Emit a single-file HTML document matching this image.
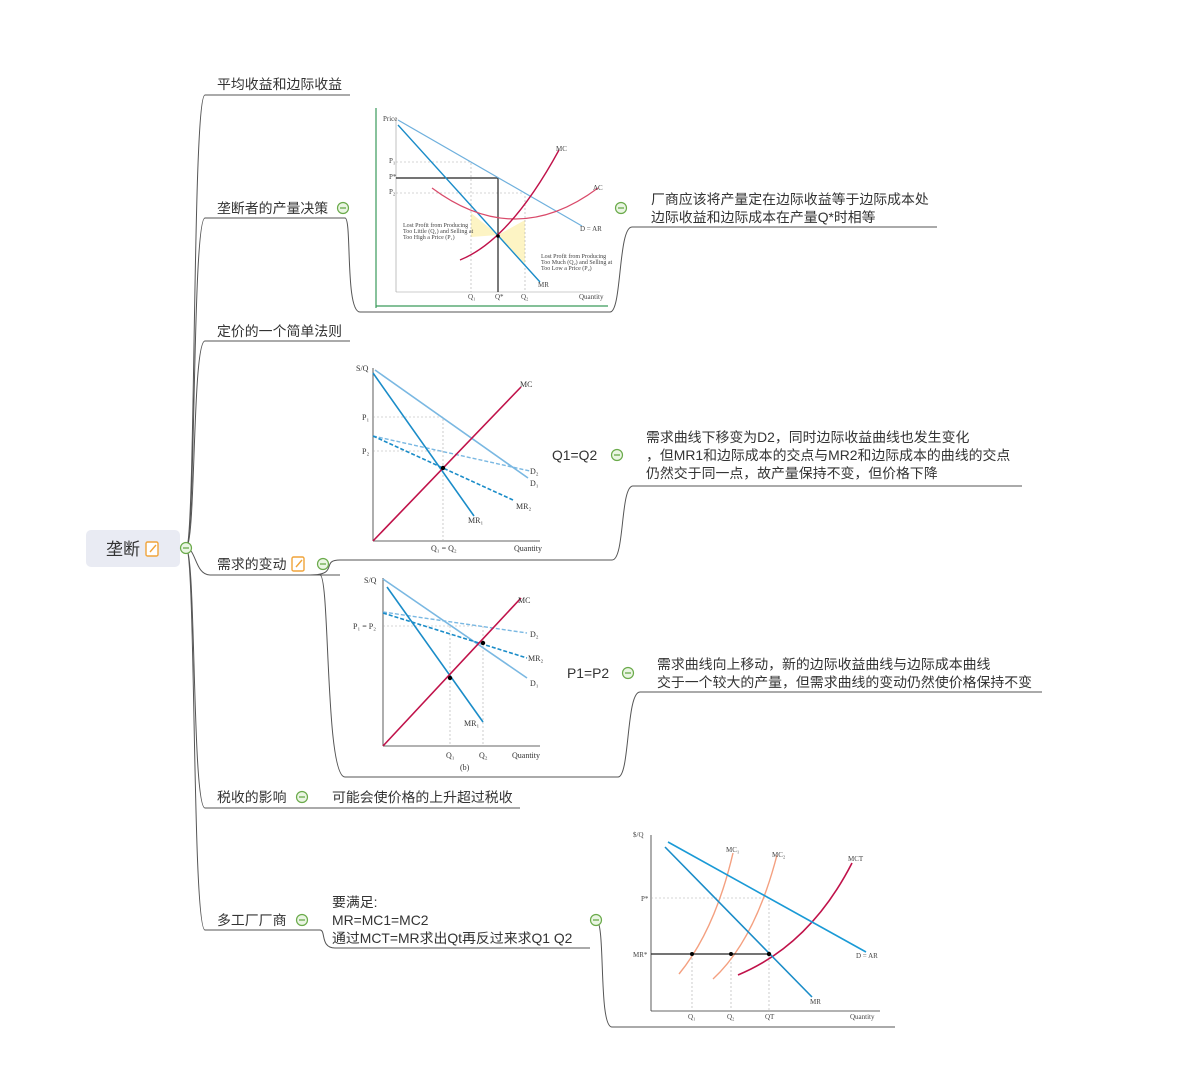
<!DOCTYPE html>
<html><head><meta charset="utf-8"><style>
body{margin:0;background:#fff;}
svg{display:block;}
.t{font-family:"Liberation Sans","Noto Sans CJK SC",sans-serif;font-size:13.9px;fill:#333;}
.s{font-family:"Liberation Serif",serif;font-size:7px;fill:#444;}
.s2{font-family:"Liberation Serif",serif;font-size:8px;fill:#333;}
.br{fill:none;stroke:#555;stroke-width:1;}
</style></head><body>
<svg width="1203" height="1080" viewBox="0 0 1203 1080" xmlns="http://www.w3.org/2000/svg">
<defs>
<g id="minus"><circle r="5.5" fill="#eaf5e3" stroke="#6aaa4a" stroke-width="1.2"/><line x1="-3" y1="0" x2="3" y2="0" stroke="#6aaa4a" stroke-width="1.3"/></g>
<g id="note"><rect x="-6" y="-7" width="12" height="14" rx="1.5" fill="#fff" stroke="#f0a43a" stroke-width="1.4"/><path d="M-2 3 L4 -4" stroke="#f0a43a" stroke-width="1.4"/></g>
</defs>
<g class="br">
<path d="M186 548 C196 548 192 95 205 95 L350 95"/>
<path d="M186 548 C196 548 192 218 205 218 L345 218"/>
<path d="M186 548 C196 548 192 341 205 341 L350 341"/>
<path d="M186 548 C196 548 195 575 210 575 L340 575"/>
<path d="M186 548 C196 548 192 808 205 808 L320 808"/>
<path d="M186 548 C196 548 192 930 205 930 L320 930"/>
<path d="M345 218 C352 218 345 312 360 312 L610 312 C622 312 618 227 632 227 L937 227"/>
<path d="M310 575 C340 575 320 560 340 560 L545 560 L612 560 C625 560 620 486 633 486 L1022 486"/>
<path d="M320 575 C330 575 325 777 345 777 L618 777 C630 777 626 692 640 692 L1042 692"/>
<path d="M320 808 L520 808"/>
<path d="M320 930 C326 930 320 948 335 948 L590 948"/>
<path d="M596 920 C606 920 598 1027 612 1027 L895 1027"/>
</g>
<rect x="86" y="530" width="94" height="37" rx="5" fill="#e9ebf3"/>
<text x="106" y="555" class="t" style="font-size:17px;fill:#333">垄断</text>
<use href="#note" x="152" y="549"/>
<use href="#minus" x="186" y="548"/>
<text x="217" y="89" class="t">平均收益和边际收益</text>
<text x="217" y="213" class="t">垄断者的产量决策</text>
<use href="#minus" x="343" y="208"/>
<text x="217" y="336" class="t">定价的一个简单法则</text>
<text x="217" y="569" class="t">需求的变动</text>
<use href="#note" x="298" y="564"/>
<use href="#minus" x="323" y="564"/>
<text x="217" y="802" class="t">税收的影响</text>
<use href="#minus" x="302" y="797"/>
<text x="332" y="802" class="t">可能会使价格的上升超过税收</text>
<text x="217" y="925" class="t">多工厂厂商</text>
<use href="#minus" x="302" y="920"/>
<text x="332" y="907" class="t">要满足:</text>
<text x="332" y="925" class="t">MR=MC1=MC2</text>
<text x="332" y="943" class="t">通过MCT=MR求出Qt再反过来求Q1 Q2</text>
<use href="#minus" x="596" y="920"/>
<use href="#minus" x="621" y="208"/>
<text x="651" y="204" class="t">厂商应该将产量定在边际收益等于边际成本处</text>
<text x="651" y="222" class="t">边际收益和边际成本在产量Q*时相等</text>
<text x="552" y="460" class="t">Q1=Q2</text>
<use href="#minus" x="617" y="455"/>
<text x="646" y="442" class="t">需求曲线下移变为D2，同时边际收益曲线也发生变化</text>
<text x="646" y="460" class="t">，但MR1和边际成本的交点与MR2和边际成本的曲线的交点</text>
<text x="646" y="478" class="t">仍然交于同一点，故产量保持不变，但价格下降</text>
<text x="567" y="678" class="t">P1=P2</text>
<use href="#minus" x="628" y="673"/>
<text x="657" y="669" class="t">需求曲线向上移动，新的边际收益曲线与边际成本曲线</text>
<text x="657" y="687" class="t">交于一个较大的产量，但需求曲线的变动仍然使价格保持不变</text>

<g>
<line x1="376" y1="108" x2="376" y2="308" stroke="#3a9a5a" stroke-width="1.2"/>
<line x1="376" y1="306" x2="608" y2="306" stroke="#3a9a5a" stroke-width="1.2"/>
<line x1="396" y1="120" x2="396" y2="292" stroke="#999" stroke-width="0.6"/>
<line x1="396" y1="292" x2="600" y2="292" stroke="#999" stroke-width="0.6"/>
<path d="M471 213 L498 235 L471 237 Z" fill="#fdf4c4"/>
<path d="M498 235 L525 220 L525 264 Z" fill="#fdf4c4"/>
<g stroke="#aaa" stroke-width="0.6" stroke-dasharray="2,2" fill="none">
<path d="M396 162 L471 162 L471 292"/><path d="M396 193 L525 193 L525 292"/></g>
<path d="M396 178 L498 178 L498 292" stroke="#222" stroke-width="1.2" fill="none"/>
<line x1="398" y1="120" x2="582" y2="226" stroke="#6fb0dd" stroke-width="1.2"/>
<line x1="398" y1="125" x2="540" y2="282" stroke="#1a8cc8" stroke-width="1.4"/>
<path d="M432 188 Q515 250 598 188" stroke="#d94a6a" stroke-width="1.2" fill="none"/>
<path d="M460 260 Q510 240 559 150" stroke="#c0124a" stroke-width="1.4" fill="none"/>
<circle cx="498" cy="236" r="1.8" fill="#000"/>
<text x="383" y="121" class="s">Price</text><text x="389" y="163" class="s">P₁</text><text x="389" y="179" class="s">P*</text><text x="389" y="194" class="s">P₂</text>
<text x="556" y="151" class="s">MC</text><text x="593" y="190" class="s">AC</text><text x="580" y="231" class="s">D = AR</text><text x="538" y="287" class="s">MR</text>
<text x="403" y="227" class="s" style="font-size:6px">Lost Profit from Producing</text>
<text x="403" y="233" class="s" style="font-size:6px">Too Little (Q₁) and Selling at</text>
<text x="403" y="239" class="s" style="font-size:6px">Too High a Price (P₁)</text>
<text x="541" y="258" class="s" style="font-size:6px">Lost Profit from Producing</text>
<text x="541" y="264" class="s" style="font-size:6px">Too Much (Q₂) and Selling at</text>
<text x="541" y="270" class="s" style="font-size:6px">Too Low a Price (P₂)</text>
<text x="468" y="299" class="s">Q₁</text><text x="495" y="299" class="s">Q*</text><text x="521" y="299" class="s">Q₂</text><text x="579" y="299" class="s">Quantity</text>
</g>

<g>
<line x1="373" y1="368" x2="373" y2="541" stroke="#333" stroke-width="0.8"/>
<line x1="373" y1="541" x2="540" y2="541" stroke="#333" stroke-width="0.8"/>
<g stroke="#aaa" stroke-width="0.6" stroke-dasharray="2,2" fill="none">
<path d="M373 417 L443 417 L443 541"/><path d="M373 451 L443 451"/></g>
<line x1="375" y1="370" x2="528" y2="478" stroke="#7ab8e2" stroke-width="1.6"/>
<line x1="373" y1="436" x2="530" y2="471" stroke="#7ab8e2" stroke-width="1.4" stroke-dasharray="4,2"/>
<line x1="373" y1="436" x2="513" y2="500" stroke="#1a8cc8" stroke-width="1.6" stroke-dasharray="4,2"/>
<line x1="373" y1="373" x2="474" y2="516" stroke="#1a8cc8" stroke-width="1.6"/>
<line x1="373" y1="541" x2="521" y2="387" stroke="#c0124a" stroke-width="1.6"/>
<circle cx="443" cy="468" r="2.2" fill="#000"/>
<text x="356" y="371" class="s2">S/Q</text><text x="362" y="420" class="s2">P₁</text><text x="362" y="454" class="s2">P₂</text>
<text x="520" y="387" class="s2">MC</text><text x="530" y="474" class="s2">D₂</text><text x="530" y="486" class="s2">D₁</text><text x="516" y="509" class="s2">MR₂</text><text x="468" y="523" class="s2">MR₁</text>
<text x="431" y="551" class="s2">Q₁ = Q₂</text><text x="514" y="551" class="s2">Quantity</text>
</g>

<g>
<line x1="383" y1="578" x2="383" y2="746" stroke="#333" stroke-width="0.8"/>
<line x1="383" y1="746" x2="540" y2="746" stroke="#333" stroke-width="0.8"/>
<g stroke="#aaa" stroke-width="0.6" stroke-dasharray="2,2" fill="none">
<path d="M383 626 L483 626 L483 746"/><path d="M450 626 L450 746"/></g>
<line x1="383" y1="579" x2="527" y2="678" stroke="#7ab8e2" stroke-width="1.6"/>
<line x1="383" y1="612" x2="527" y2="633" stroke="#7ab8e2" stroke-width="1.4" stroke-dasharray="4,2"/>
<line x1="383" y1="613" x2="527" y2="658" stroke="#1a8cc8" stroke-width="1.6" stroke-dasharray="4,2"/>
<line x1="387" y1="587" x2="483" y2="722" stroke="#1a8cc8" stroke-width="1.6"/>
<line x1="383" y1="746" x2="521" y2="598" stroke="#c0124a" stroke-width="1.6"/>
<circle cx="450" cy="678" r="2.2" fill="#000"/><circle cx="483" cy="643" r="2.2" fill="#000"/>
<text x="364" y="583" class="s2">S/Q</text><text x="353" y="629" class="s2">P₁ = P₂</text>
<text x="518" y="603" class="s2">MC</text><text x="530" y="637" class="s2">D₂</text><text x="528" y="661" class="s2">MR₂</text><text x="530" y="686" class="s2">D₁</text><text x="464" y="726" class="s2">MR₁</text>
<text x="446" y="758" class="s2">Q₁</text><text x="479" y="758" class="s2">Q₂</text><text x="512" y="758" class="s2">Quantity</text><text x="460" y="770" class="s2">(b)</text>
</g>

<g>
<line x1="651" y1="835" x2="651" y2="1011" stroke="#333" stroke-width="0.8"/>
<line x1="651" y1="1011" x2="880" y2="1011" stroke="#333" stroke-width="0.8"/>
<g stroke="#aaa" stroke-width="0.6" stroke-dasharray="2,2" fill="none">
<path d="M651 898 L769 898 L769 1011"/><path d="M692 954 L692 1011"/><path d="M731 954 L731 1011"/></g>
<path d="M679 974 Q715 930 733 853" stroke="#f4a080" stroke-width="1.4" fill="none"/>
<path d="M713 979 Q755 940 777 855" stroke="#f4a080" stroke-width="1.4" fill="none"/>
<path d="M738 975 Q810 945 852 863" stroke="#c0124a" stroke-width="1.6" fill="none"/>
<line x1="668" y1="842" x2="866" y2="952" stroke="#1a9ad6" stroke-width="1.6"/>
<line x1="665" y1="847" x2="812" y2="997" stroke="#1a8cc8" stroke-width="1.6"/>
<line x1="651" y1="954" x2="769" y2="954" stroke="#222" stroke-width="1.3"/>
<circle cx="692" cy="954" r="2" fill="#000"/><circle cx="731" cy="954" r="2" fill="#000"/><circle cx="769" cy="954" r="2.2" fill="#000"/>
<text x="633" y="837" class="s">$/Q</text><text x="641" y="901" class="s">P*</text><text x="633" y="957" class="s">MR*</text>
<text x="726" y="852" class="s">MC₁</text><text x="772" y="857" class="s">MC₂</text><text x="848" y="861" class="s">MCT</text>
<text x="856" y="958" class="s">D = AR</text><text x="810" y="1004" class="s">MR</text>
<text x="688" y="1019" class="s">Q₁</text><text x="727" y="1019" class="s">Q₂</text><text x="765" y="1019" class="s">QT</text><text x="850" y="1019" class="s">Quantity</text>
</g>
</svg>
</body></html>
